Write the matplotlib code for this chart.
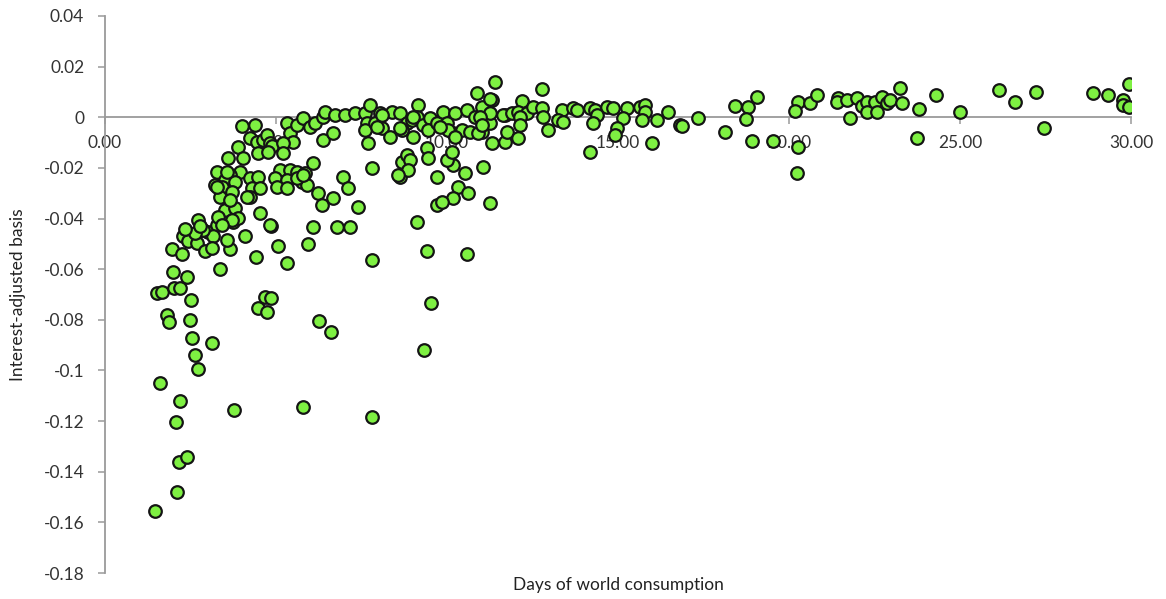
import matplotlib
matplotlib.use('Agg')
import matplotlib.pyplot as plt
from matplotlib.ticker import FixedLocator, FixedFormatter

plt.rcParams['font.family'] = ['Lato', 'DejaVu Sans']

# days of world consumption (x) and interest-adjusted basis (y)
days = [
    1.46, 1.61, 1.52, 1.67, 1.80, 1.87, 2.02, 2.19, 1.99, 2.40, 1.96, 2.25,
    2.07, 2.16, 2.11, 2.19, 2.40, 2.72, 2.63, 3.13, 2.54, 2.49, 2.51, 3.36,
    2.28, 2.57, 2.84, 3.01, 3.27, 3.16, 3.65, 3.57, 2.43, 2.69, 2.92, 3.13,
    3.77, 5.79, 7.81, 9.33, 9.53, 7.81, 9.42, 10.58, 4.68, 4.85, 4.47, 4.74,
    6.26, 6.61, 5.94, 5.06, 4.42, 5.32, 6.08, 6.78, 7.16, 4.85, 4.09, 3.74,
    4.01, 4.39, 4.24, 4.44, 4.62, 4.74, 4.82, 4.88, 4.47, 4.77, 3.89, 4.04,
    3.60, 3.95, 3.65, 3.27, 3.51, 3.22, 3.42, 3.80, 3.71, 3.36, 4.24, 4.47,
    4.30, 4.53, 4.24, 3.51, 3.80, 3.89, 3.71, 3.30, 3.42, 2.72, 2.87, 2.63,
    4.53, 4.82, 5.32, 5.41, 5.61, 5.79, 5.50, 5.20, 5.20, 5.12, 5.41, 5.61,
    5.85, 4.97, 5.32, 5.03, 5.32, 5.76, 5.91, 3.57, 3.27, 3.65, 4.15, 2.34,
    2.78,
    5.99, 6.14, 6.37, 6.43, 6.73, 7.02, 7.31, 7.60, 7.66, 7.60, 7.75, 8.04,
    7.89, 8.10, 8.39, 8.33, 8.63, 8.83, 8.68, 8.98, 9.15, 9.12, 9.30, 9.50,
    9.44, 9.71, 9.88, 10.00, 10.23, 10.18, 10.03, 10.44, 10.58, 10.82, 10.67, 11.02,
    11.02, 10.88, 11.26, 6.37, 6.67, 7.69, 6.08, 7.81, 5.61, 5.79, 6.96, 7.11,
    6.23, 6.35, 6.67, 7.40, 8.63, 8.68, 8.83, 8.92, 8.86, 9.42, 9.44, 9.71,
    10.18, 10.00, 10.53, 10.32, 10.61, 10.18, 9.71, 9.85, 9.12, 11.05, 11.25, 11.32,
    11.70, 11.32, 11.70, 10.23, 9.80, 9.00, 7.95, 10.15, 8.57, 8.10, 9.00, 8.63,
    10.91,
    11.40, 12.78, 11.26, 12.19, 11.26, 11.64, 11.90, 12.08, 12.34, 12.51, 12.78, 12.81,
    13.36, 13.68, 13.80, 14.18, 14.33, 14.68, 14.85, 15.26, 15.64, 15.79, 15.79, 16.46,
    16.81, 14.39, 14.27, 15.15, 15.70, 16.14, 14.97, 14.91, 10.96, 11.02, 12.13, 12.13,
    11.75, 12.08, 12.95, 13.25, 13.39, 14.18, 15.99,
    16.87, 17.34, 18.13, 18.42, 18.80, 19.06, 18.74, 18.92, 19.53, 20.26, 20.18, 20.61,
    20.82, 20.26, 20.23, 21.43, 21.40, 21.70, 22.00, 22.13, 21.78, 22.28, 22.28, 22.50,
    22.57, 22.72, 22.87, 22.95, 23.25, 23.30, 23.74, 23.80, 24.30, 25.00, 26.14, 26.61,
    27.22, 27.46, 28.89, 29.33, 29.77, 29.77, 29.94, 29.94,
]
basis = [
    -0.1555, -0.105, -0.0695, -0.069, -0.078, -0.081, -0.0675, -0.0675, -0.061, -0.063, -0.052, -0.054,
    -0.1205, -0.136, -0.148, -0.112, -0.134, -0.0995, -0.094, -0.089, -0.087, -0.080, -0.072, -0.060,
    -0.047, -0.0465, -0.0445, -0.0455, -0.0425, -0.047, -0.052, -0.0485, -0.049, -0.0495, -0.053, -0.0515,
    -0.1155, -0.1145, -0.1185, -0.092, -0.0735, -0.0565, -0.053, -0.054, -0.071, -0.0713, -0.0755, -0.077,
    -0.0805, -0.085, -0.050, -0.051, -0.055, -0.0575, -0.0435, -0.0435, -0.0435, -0.043, -0.047, -0.0413,
    -0.0034, -0.003, -0.0082, -0.0097, -0.009, -0.007, -0.0101, -0.0115, -0.0141, -0.0137, -0.0117, -0.0161,
    -0.0161, -0.0216, -0.0228, -0.0216, -0.0247, -0.0267, -0.0275, -0.0255, -0.0295, -0.0314, -0.0239, -0.0235,
    -0.0279, -0.0279, -0.0314, -0.0366, -0.0358, -0.0397, -0.0405, -0.0393, -0.0425, -0.0405, -0.0444, -0.0456,
    -0.0377, -0.0425, -0.0022, -0.0062, -0.003, -0.0003, -0.0097, -0.0101, -0.0141, -0.0208, -0.0208, -0.0216,
    -0.022, -0.0239, -0.0247, -0.0275, -0.0279, -0.0255, -0.0267, -0.0216, -0.0275, -0.0326, -0.0314, -0.044,
    -0.043,
    -0.0038, -0.0022, 0.0001, 0.0021, 0.0009, 0.0009, 0.0017, 0.0017, -0.0022, -0.005, 0.0049, 0.0017,
    -0.0022, -0.0042, 0.0021, -0.0078, 0.0017, -0.0022, -0.005, -0.0011, 0.0049, 0.0001, -0.003, -0.0003,
    -0.005, -0.0022, 0.0021, -0.0022, 0.0017, -0.0062, -0.005, -0.005, 0.0029, 0.0001, -0.0058, 0.0041,
    -0.0058, 0.0096, -0.0022, -0.009, -0.0062, -0.0101, -0.018, -0.020, -0.0239, -0.0228, -0.0235, -0.0279,
    -0.0298, -0.0346, -0.0318, -0.0354, -0.0235, -0.0176, -0.0149, -0.0168, -0.0208, -0.0121, -0.016, -0.0235,
    -0.0188, -0.0168, -0.022, -0.0275, -0.0298, -0.0318, -0.0346, -0.0334, -0.0413, -0.0196, -0.034, 0.0068,
    0.0009, -0.0101, -0.0097, -0.0078, -0.0038, -0.0078, -0.0038, -0.0137, -0.0228, 0.0009, 0.0001, -0.0042,
    -0.0062,
    0.0139, 0.0111, 0.0072, 0.0064, 0.0017, 0.0009, 0.0017, 0.0021, 0.0017, 0.0041, 0.0037, 0.0,
    0.0029, 0.0037, 0.0029, 0.0037, 0.0029, 0.0041, 0.0037, 0.0037, 0.0041, 0.0049, 0.0021, 0.0021,
    -0.003, 0.0009, -0.0022, -0.0003, -0.0011, -0.0011, -0.0042, -0.007, 0.0, -0.003, 0.0, -0.003,
    -0.0058, -0.0082, -0.005, -0.0011, -0.0019, -0.0137, -0.0101,
    -0.0034, -0.0003, -0.0058, 0.0045, 0.0041, 0.008, -0.0007, -0.0094, -0.0094, 0.006, 0.0025, 0.0056,
    0.0088, -0.0117, -0.022, 0.0076, 0.006, 0.0068, 0.0076, 0.0045, -0.0003, 0.006, 0.0021, 0.006,
    0.0021, 0.008, 0.0056, 0.0068, 0.0115, 0.0056, -0.0082, 0.0033, 0.0088, 0.0021, 0.0108, 0.006,
    0.010, -0.0042, 0.0096, 0.0088, 0.0068, 0.0049, 0.0131, 0.004,
]

x_ticks = [0, 5, 10, 15, 20, 25, 30]
x_tick_labels = ['0.00', '5.00', '10.00', '15.00', '20.00', '25.00', '30.00']
y_ticks = [0.04, 0.02, 0, -0.02, -0.04, -0.06, -0.08, -0.1, -0.12, -0.14, -0.16, -0.18]
y_tick_labels = ['0.04', '0.02', '0', '-0.02', '-0.04', '-0.06', '-0.08', '-0.1', '-0.12', '-0.14', '-0.16', '-0.18']

fig = plt.figure(figsize=(11.66, 5.99), dpi=100)
ax = fig.add_axes([105 / 1166, 1 - 573 / 599, (1131 - 105) / 1166, (573 - 16) / 599])

ax.scatter(days, basis, s=82, c='#7ef042', edgecolors='#141414', linewidths=1.6, zorder=3)

ax.set_xlim(0, 30)
ax.set_ylim(-0.18, 0.04)

ax.spines['top'].set_visible(False)
ax.spines['right'].set_visible(False)
ax.spines['bottom'].set_position(('data', 0))
for side in ['left', 'bottom']:
    ax.spines[side].set_color('#9a9a9a')
    ax.spines[side].set_linewidth(1.3)

ax.xaxis.set_major_locator(FixedLocator(x_ticks))
ax.xaxis.set_major_formatter(FixedFormatter(x_tick_labels))
ax.yaxis.set_major_locator(FixedLocator(y_ticks))
ax.yaxis.set_major_formatter(FixedFormatter(y_tick_labels))
ax.tick_params(axis='both', direction='out', length=5, width=1.1, color='#9a9a9a',
               labelsize=12.5, labelcolor='#333333')
ax.tick_params(axis='x', pad=8)
ax.tick_params(axis='y', pad=10)

fig.text(618 / 1166, 1 - 585 / 599, 'Days of world consumption', ha='center', va='center',
         fontsize=12.5, color='#222222')
fig.text(18 / 1166, 1 - 295 / 599, 'Interest-adjusted basis', ha='center', va='center',
         rotation=90, fontsize=12.5, color='#222222')

fig.savefig('out.png', dpi=100)
